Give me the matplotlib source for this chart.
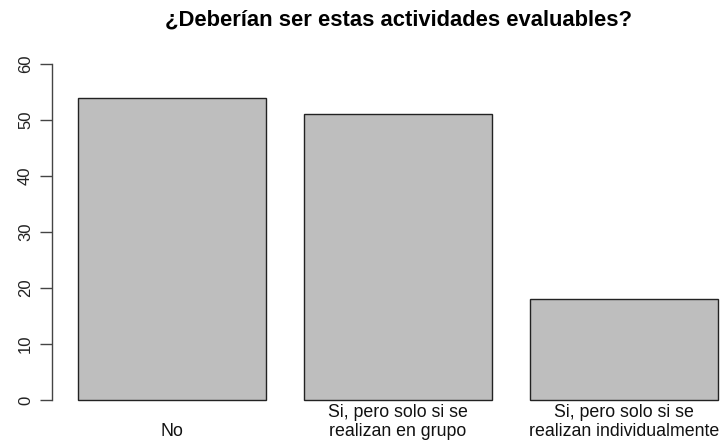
import matplotlib
matplotlib.use("Agg")
import matplotlib.pyplot as plt
import matplotlib.transforms as mtransforms

plt.rcParams['font.family'] = ['Liberation Sans', 'DejaVu Sans']

# datos
categorias = ["No", "Si, pero solo si se\nrealizan en grupo", "Si, pero solo si se\nrealizan individualmente"]
valores = [54, 51, 18]
yticks = [0, 10, 20, 30, 40, 50, 60]
titulo = "¿Deberían ser estas actividades evaluables?"

fig = plt.figure(figsize=(7.23, 4.41), dpi=100)
# posicion como en barplot de R (el area sale por la derecha)
ax = fig.add_axes([52.4 / 723, 27.6 / 441, 691.2 / 723, 362.8 / 441])

# barplot estilo R: ancho 1, espacio 0.2
centros = [0.2 + 0.5 + i * 1.2 for i in range(len(valores))]
ax.bar(centros, valores, width=1.0, color="#bebebe", edgecolor="#222222", linewidth=1.0)

ax.set_xlim(0.2 - 0.136, 3.6 + 0.136)
ax.set_ylim(-2.4, 62.4)

for s in ax.spines.values():
    s.set_visible(False)
ax.spines['left'].set_visible(True)
ax.spines['left'].set_bounds(0, 60)
ax.spines['left'].set_color("#444444")
ax.spines['left'].set_linewidth(1.0)

ax.set_yticks(yticks)
ax.set_yticklabels([str(v) for v in yticks], rotation=90, va='center', fontsize=12, color="#222222")
ax.tick_params(axis='y', length=9, width=1.0, color="#444444", pad=5)
ax.set_xticks([])

# etiquetas de las categorias (alineadas por abajo, como en R)
trans = mtransforms.blended_transform_factory(ax.transData, fig.transFigure)
for c, lab in zip(centros, categorias):
    ax.text(c, 1.0 / 441, lab, transform=trans, ha='center', va='bottom',
            fontsize=12.8, linespacing=1.15, color="#111111")

fig.text((52.4 + 743.6) / 2 / 723, 1 - 20 / 441, titulo, ha='center', va='center',
         fontsize=15.8, fontweight='bold')

fig.savefig("out.png", dpi=100)
